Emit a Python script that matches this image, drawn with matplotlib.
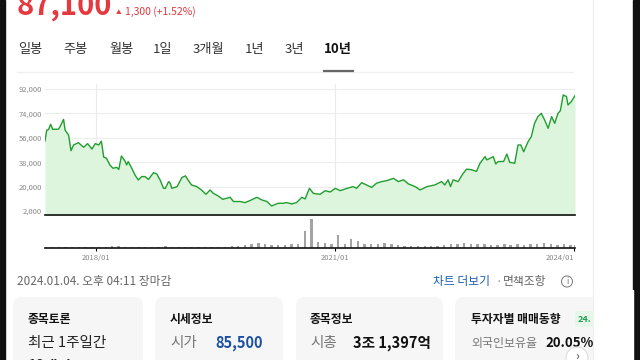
import numpy as np
import pandas as pd
import matplotlib
matplotlib.use('Agg')
from matplotlib import pyplot as plt
from matplotlib.patches import FancyBboxPatch, Circle

plt.rcParams['font.family'] = ['Noto Sans CJK KR', 'DejaVu Sans']

# 10년 종가 (화면에서 읽은 값)
dates = ['2017-05-13', '2017-05-21', '2017-05-29', '2017-06-08', '2017-06-17', '2017-07-13', '2017-07-21',
         '2017-08-06', '2017-08-13', '2017-08-29', '2017-09-09', '2017-09-21', '2017-10-13', '2017-11-06',
         '2017-11-24', '2017-12-14', '2017-12-29', '2018-01-14', '2018-01-26', '2018-02-06', '2018-02-18',
         '2018-03-06', '2018-03-21', '2018-04-06', '2018-04-16', '2018-04-28', '2018-05-14', '2018-05-22',
         '2018-05-29', '2018-06-14', '2018-06-29', '2018-07-14', '2018-07-30', '2018-08-14', '2018-08-30',
         '2018-09-22', '2018-10-07', '2018-10-22', '2018-11-07', '2018-11-15', '2018-11-30', '2018-12-07',
         '2018-12-15', '2019-01-08', '2019-01-30', '2019-02-15', '2019-03-01', '2019-03-15', '2019-04-08',
         '2019-04-30', '2019-05-20', '2019-06-08', '2019-06-23', '2019-07-15', '2019-08-05', '2019-09-08',
         '2019-09-23', '2019-10-23', '2019-11-15', '2019-12-08', '2020-01-08', '2020-02-01', '2020-02-23',
         '2020-03-16', '2020-04-15', '2020-05-08', '2020-05-23', '2020-06-16', '2020-07-08', '2020-08-01',
         '2020-08-16', '2020-09-05', '2020-09-23', '2020-10-24', '2020-11-16', '2020-12-09', '2021-01-01',
         '2021-01-24', '2021-02-24', '2021-03-24', '2021-04-09', '2021-05-02', '2021-05-24', '2021-06-17',
         '2021-07-09', '2021-08-02', '2021-08-25', '2021-09-25', '2021-10-17', '2021-11-10', '2021-12-02',
         '2022-01-02', '2022-01-25', '2022-02-25', '2022-04-02', '2022-05-03', '2022-05-18', '2022-06-02',
         '2022-06-13', '2022-06-25', '2022-07-18', '2022-08-10', '2022-08-26', '2022-09-18', '2022-10-10',
         '2022-10-26', '2022-11-18', '2022-11-26', '2022-12-11', '2022-12-26', '2023-01-06', '2023-01-18',
         '2023-02-11', '2023-02-26', '2023-03-11', '2023-04-03', '2023-04-18', '2023-05-01', '2023-05-14',
         '2023-06-03', '2023-06-18', '2023-07-03', '2023-07-18', '2023-08-03', '2023-08-18', '2023-09-03',
         '2023-09-19', '2023-10-03', '2023-10-18', '2023-10-29', '2023-11-11', '2023-11-26', '2023-12-03',
         '2023-12-18', '2024-01-04']
prices = [53600, 61700, 62000, 66000, 62300, 62300, 64200, 69600, 61700, 58000, 46500, 50700, 52400, 49000,
          51700, 47700, 51700, 50700, 53500, 41700, 41000, 35900, 33500, 34200, 32700, 42600, 38900, 36000,
          38500, 33600, 28600, 24900, 27400, 27400, 25300, 30300, 29300, 24900, 18700, 18700, 23700, 22500,
          18700, 20000, 26700, 27900, 24400, 21200, 20000, 17500, 14300, 17500, 15000, 13100, 10600, 12100,
          9000, 9000, 8200, 9700, 12100, 10100, 9000, 5700, 7700, 7700, 8200, 7200, 8200, 12100,
          10900, 18700, 15000, 14300, 17000, 16000, 18700, 17000, 18700, 20000, 18700, 22900, 21200, 19400,
          22500, 23700, 24400, 26100, 23700, 25000, 22000, 20000, 17500, 20000, 21200, 23700, 21200, 25000,
          20000, 25000, 23700, 29800, 32900, 32400, 31200, 37200, 42100, 39700, 40900, 42100, 36700, 38500,
          38500, 44000, 37900, 37200, 50700, 50700, 45700, 53100, 56900, 66700, 71600, 74000, 69100, 63000,
          71600, 66700, 74000, 76000, 87600, 86400, 80200, 82700, 87100]

# 월별 거래량 (상대값, 2017/05 ~ 2024/01)
vol_months = pd.period_range('2017-05', '2024-01', freq='M')
volumes = [1.0, 1.2, 0.8, 1.0, 0.9, 0.8, 0.9, 1.0,
           1.2, 1.0, 1.5, 2.0, 0.8, 1.0, 0.9, 1.2, 1.0, 0.8, 1.5, 0.9,
           1.0, 1.2, 1.0, 0.9, 1.1, 1.3, 1.0, 1.2, 1.5, 1.6, 3.0, 3.5,
           4.5, 3.5, 3.0, 2.8, 3.0, 3.5, 4.0, 16.0, 28.0, 6.0, 5.0, 3.5,
           13.0, 4.0, 9.0, 7.0, 4.0, 3.5, 4.0, 5.0, 3.5, 2.5, 2.0, 1.8,
           1.5, 1.5, 1.8, 2.0, 2.5, 3.5, 4.0, 4.5, 4.0, 3.5, 3.5, 3.0,
           3.0, 3.5, 3.0, 3.5, 3.0, 3.5, 4.0, 5.0, 3.5, 3.0, 3.5, 3.0,
           3.0]

yticks = [2000, 20000, 38000, 56000, 74000, 92000]
xticks = ['2018-01-01', '2021-01-01', '2024-01-01']
xtick_labels = ['2018/01', '2021/01', '2024/01']
tabs = ['일봉', '주봉', '월봉', '1일', '3개월', '1년', '3년', '10년']
tab_x = [18, 63, 109, 153, 193, 245, 285, 324]

W, H = 640, 360
GREEN = '#1f9e2e'
RED = '#e5383f'


def rect(x0, y0, x1, y1):
    # 픽셀 좌표 -> figure 좌표
    return [x0 / W, 1 - y1 / H, (x1 - x0) / W, (y1 - y0) / H]


fig = plt.figure(figsize=(6.4, 3.6), dpi=100)

# 배경 (화면 UI)
bg = fig.add_axes([0, 0, 1, 1], zorder=0)
bg.set_xlim(0, W)
bg.set_ylim(H, 0)
bg.axis('off')
bg.add_patch(plt.Rectangle((0, 0), 5, H, color='#111111'))
bg.add_patch(plt.Rectangle((633, 0), 7, H, color='#111111'))
bg.plot([593, 593], [0, H], color='#ececec', lw=0.8)

bg.text(17, 15, '87,100', color=RED, fontsize=21, fontweight='bold', va='baseline')
bg.text(116, 14.5, '▲', color=RED, fontsize=4, va='baseline')
bg.text(125, 15, '1,300 (+1.52%)', color=RED, fontsize=7.5, va='baseline')

for t, x in zip(tabs, tab_x):
    if t == '10년':
        bg.text(x, 49, t, color='#111111', fontsize=9.5, fontweight='bold', va='center')
    else:
        bg.text(x, 49, t, color='#333333', fontsize=9.5, va='center')
bg.plot([17, 573], [71.5, 71.5], color='#f0f0f0', lw=1)
bg.plot([323, 354], [70.5, 70.5], color='#666666', lw=1.6, solid_capstyle='butt')

bg.text(17, 282, '2024.01.04. 오후 04:11 장마감', color='#666666', fontsize=8.5, va='center')
bg.text(433, 282, '차트 더보기', color='#1b5fae', fontsize=8.5, va='center')
bg.text(499, 282, '·', color='#888888', fontsize=8.5, va='center', ha='center')
bg.text(503, 282, '면책조항', color='#666666', fontsize=8.5, va='center')
bg.add_patch(Circle((567, 281.5), 5.5, fill=False, ec='#777777', lw=0.7))
bg.text(567, 281.5, 'i', color='#777777', fontsize=6, ha='center', va='center')

# 카드
cards = [(13, 143), (155, 283), (296, 443), (455, 600)]
for x0, x1 in cards:
    bg.add_patch(FancyBboxPatch((x0, 297), x1 - x0, 90, boxstyle='round,pad=0,rounding_size=9',
                                fc='#f6f6f7', ec='none'))
bg.add_patch(plt.Rectangle((594, 290), 39, 70, color='white', zorder=3))

bg.text(28, 319, '종목토론', color='#111111', fontsize=8.5, fontweight='bold', va='center')
bg.text(28, 343, '최근 1주일간', color='#222222', fontsize=10.5, va='center')
bg.text(28, 366, '18개의', color='#222222', fontsize=10.5, fontweight='bold', va='center')

bg.text(170, 319, '시세정보', color='#111111', fontsize=8.5, fontweight='bold', va='center')
bg.text(170, 343, '시가', color='#777777', fontsize=10.5, va='center')
bg.text(263, 343, '85,500', color='#1b4fa3', fontsize=10.5, fontweight='bold', va='center', ha='right')

bg.text(310, 319, '종목정보', color='#111111', fontsize=8.5, fontweight='bold', va='center')
bg.text(310, 343, '시총', color='#777777', fontsize=10.5, va='center')
bg.text(353, 343, '3조 1,397억', color='#111111', fontsize=10.5, fontweight='bold', va='center')

bg.text(471, 319, '투자자별 매매동향', color='#111111', fontsize=8.5, fontweight='bold', va='center')
bg.add_patch(FancyBboxPatch((575, 311), 20, 16, boxstyle='round,pad=0,rounding_size=4',
                            fc='#e6f6ea', ec='none', zorder=2))
bg.text(578, 319, '24.', color='#1f9e4a', fontsize=6.5, fontweight='bold', va='center', zorder=2)
bg.text(471, 343, '외국인보유율', color='#777777', fontsize=8.6, va='center')
bg.text(545, 343, '20.05%', color='#111111', fontsize=9.5, fontweight='bold', va='center')
bg.add_patch(Circle((577, 358), 11, fc='white', ec='#dddddd', lw=0.8, zorder=4))
bg.text(577, 356, '›', color='#444444', fontsize=9, ha='center', va='center', zorder=5)

# 주가 차트
d = pd.to_datetime(dates)
x_start, x_end = pd.Timestamp('2017-05-13'), pd.Timestamp('2024-01-04')
px_per_won = 90000 / 122.0

ax = fig.add_axes(rect(45, 84, 575, 215), zorder=2)
ax.patch.set_alpha(0)
ax.fill_between(d, prices, -5000, color='#dcf5dc', lw=0)
ax.plot(d, prices, color=GREEN, lw=1.0)
ax.set_xlim(x_start, x_end)
ax.set_ylim(2000 - 4 * px_per_won, 92000 + 5 * px_per_won)
ax.set_yticks(yticks)
ax.set_yticklabels([f'{v:,}' for v in yticks], fontsize=5.5, color='#888888')
ax.set_xticks(pd.to_datetime(xticks[:2]))
ax.tick_params(axis='y', length=0, pad=2)
ax.tick_params(axis='x', length=0, labelbottom=False)
ax.grid(axis='y', color='#ededed', lw=0.8)
ax.grid(axis='x', color='#ebebeb', lw=0.8)
ax.set_axisbelow(True)
for s in ['top', 'right', 'left']:
    ax.spines[s].set_visible(False)
ax.spines['bottom'].set_color('#111111')
ax.spines['bottom'].set_linewidth(1.2)

# 거래량
vol_x = pd.Series(vol_months.to_timestamp() + pd.Timedelta(days=14)).clip(upper=x_end)
vax = fig.add_axes(rect(45, 218, 575, 248), zorder=2)
vax.patch.set_alpha(0)
vax.bar(vol_x, volumes, width=11, color='#a3a3a3')
vax.set_xlim(x_start, x_end)
vax.set_ylim(0, 29)
vax.set_yticks([])
vax.set_xticks(pd.to_datetime(xticks))
vax.set_xticklabels(xtick_labels, fontsize=5.5, color='#888888')
vax.tick_params(axis='x', length=2.5, width=0.8, pad=2)
vax.get_xticklabels()[-1].set_ha('right')
for s in ['top', 'right', 'left']:
    vax.spines[s].set_visible(False)
vax.spines['bottom'].set_color('#111111')
vax.spines['bottom'].set_linewidth(1.2)

fig.savefig('out.png', dpi=100, facecolor='white')
